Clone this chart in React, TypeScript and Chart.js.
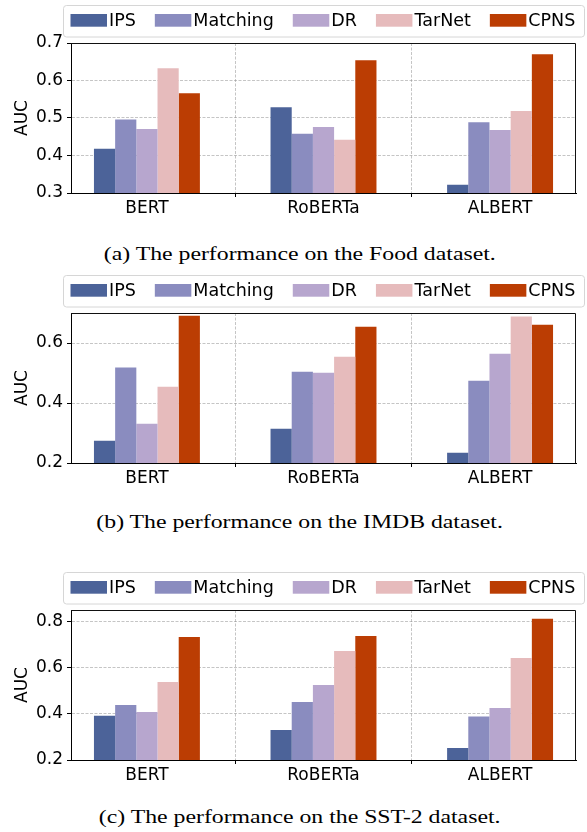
import React, { useEffect, useRef } from 'react';
import { Chart, registerables } from 'chart.js';

Chart.register(...registerables);

const categories = ['BERT', 'RoBERTa', 'ALBERT'];
const seriesNames = ['IPS', 'Matching', 'DR', 'TarNet', 'CPNS'];
const seriesColors = ['#4c6399', '#8a8cbf', '#b7a6ce', '#e6bbbc', '#bb3d03'];

// (a) Food dataset
const foodIPS = [0.418, 0.529, 0.322];
const foodMatching = [0.496, 0.458, 0.489];
const foodDR = [0.471, 0.476, 0.468];
const foodTarNet = [0.633, 0.442, 0.519];
const foodCPNS = [0.566, 0.654, 0.67];
const foodTicks = [0.3, 0.4, 0.5, 0.6, 0.7];
const foodRange = [0.3, 0.7];

// (b) IMDB dataset
const imdbIPS = [0.274, 0.314, 0.234];
const imdbMatching = [0.518, 0.504, 0.474];
const imdbDR = [0.331, 0.501, 0.564];
const imdbTarNet = [0.454, 0.554, 0.688];
const imdbCPNS = [0.691, 0.654, 0.661];
const imdbTicks = [0.2, 0.4, 0.6];
const imdbRange = [0.2, 0.7];

// (c) SST-2 dataset
const sstIPS = [0.392, 0.33, 0.252];
const sstMatching = [0.438, 0.451, 0.388];
const sstDR = [0.408, 0.525, 0.425];
const sstTarNet = [0.538, 0.672, 0.642];
const sstCPNS = [0.733, 0.737, 0.812];
const sstTicks = [0.2, 0.4, 0.6, 0.8];
const sstRange = [0.2, 0.85];

const captions = [
  '(a) The performance on the Food dataset.',
  '(b) The performance on the IMDB dataset.',
  '(c) The performance on the SST-2 dataset.',
];

const FONT = 'DejaVu Sans';
const W = 587;
const H = 225;

const legendPlugin = {
  id: 'boxLegend',
  afterDraw(chart: any) {
    const ctx = chart.ctx;
    ctx.save();
    const x0 = 63.5, y0 = 5.5, x1 = 584.5, y1 = 37, r = 3;
    ctx.beginPath();
    ctx.moveTo(x0 + r, y0);
    ctx.lineTo(x1 - r, y0);
    ctx.arcTo(x1, y0, x1, y0 + r, r);
    ctx.lineTo(x1, y1 - r);
    ctx.arcTo(x1, y1, x1 - r, y1, r);
    ctx.lineTo(x0 + r, y1);
    ctx.arcTo(x0, y1, x0, y1 - r, r);
    ctx.lineTo(x0, y0 + r);
    ctx.arcTo(x0, y0, x0 + r, y0, r);
    ctx.closePath();
    ctx.fillStyle = 'rgba(255,255,255,0.9)';
    ctx.fill();
    ctx.strokeStyle = '#d6d6d6';
    ctx.lineWidth = 1;
    ctx.stroke();
    ctx.font = `17.5px "${FONT}"`;
    ctx.textBaseline = 'middle';
    ctx.textAlign = 'left';
    let x = 70.5;
    seriesNames.forEach((name, i) => {
      ctx.fillStyle = seriesColors[i];
      ctx.fillRect(x, 14, 36.5, 12.7);
      ctx.fillStyle = '#000';
      ctx.fillText(name, x + 38.5, 21);
      x += 38.5 + ctx.measureText(name).width + 19;
    });
    ctx.restore();
  },
};

const framePlugin = {
  id: 'frame',
  afterDraw(chart: any) {
    const { ctx, chartArea } = chart;
    ctx.save();
    ctx.strokeStyle = '#111';
    ctx.lineWidth = 1;
    ctx.beginPath();
    ctx.moveTo(chartArea.left, chartArea.top + 0.5);
    ctx.lineTo(chartArea.right - 0.5, chartArea.top + 0.5);
    ctx.lineTo(chartArea.right - 0.5, chartArea.bottom);
    ctx.stroke();
    ctx.restore();
  },
};

function Panel(props: {
  series: number[][];
  range: number[];
  ticks: number[];
  top: number;
}) {
  const ref = useRef<HTMLCanvasElement | null>(null);
  useEffect(() => {
    if (!ref.current) return;
    const gridCommon = {
      color: 'rgba(140,140,140,0.5)',
      lineWidth: 1,
      tickColor: '#000',
      tickLength: 4,
      tickWidth: 1,
      tickBorderDash: [],
    };
    const borderCommon = { color: '#000', width: 1, dash: [3, 1.5] };
    const chart = new Chart(ref.current, {
      type: 'bar',
      data: {
        datasets: props.series.map((vals, si) => ({
          label: seriesNames[si],
          data: vals.map((v, i) => ({ x: i, y: v })),
          backgroundColor: seriesColors[si],
          borderWidth: 0,
          categoryPercentage: 0.6,
          barPercentage: 1.0,
        })),
      },
      options: {
        responsive: false,
        animation: false,
        devicePixelRatio: 1,
        layout: { padding: { top: 43, right: 11, left: 0, bottom: 0 } },
        plugins: { legend: { display: false }, tooltip: { enabled: false } },
        scales: {
          x: {
            type: 'linear',
            min: -0.43,
            max: 2.43,
            offset: false,
            z: 1,
            afterBuildTicks: (s: any) => {
              s.ticks = categories.map((_, i) => ({ value: i }));
            },
            afterFit: (s: any) => {
              s.height = H - 193;
            },
            ticks: {
              autoSkip: false,
              maxRotation: 0,
              padding: 1,
              color: '#000',
              font: { family: FONT, size: 17 },
              callback: (v: any) => categories[Math.round(Number(v))] ?? '',
            },
            grid: gridCommon,
            border: borderCommon,
          },
          y: {
            type: 'linear',
            min: props.range[0],
            max: props.range[1],
            z: 1,
            afterBuildTicks: (s: any) => {
              s.ticks = props.ticks.map((v) => ({ value: v }));
            },
            afterFit: (s: any) => {
              s.width = 71;
            },
            ticks: {
              padding: 4,
              color: '#000',
              font: { family: FONT, size: 17 },
              callback: (v: any) => Number(v).toFixed(1),
            },
            title: {
              display: true,
              text: 'AUC',
              color: '#000',
              font: { family: FONT, size: 17 },
              padding: { top: 12, bottom: 0 },
            },
            grid: gridCommon,
            border: borderCommon,
          },
        },
      } as any,
      plugins: [legendPlugin, framePlugin],
    });
    return () => chart.destroy();
  }, []);
  return (
    <canvas
      ref={ref}
      width={W}
      height={H}
      style={{ position: 'absolute', left: 0, top: props.top, width: W, height: H }}
    />
  );
}

function Caption(props: { text: string; center: number }) {
  return (
    <div
      style={{
        position: 'absolute',
        left: 0,
        width: 600,
        top: props.center - 12,
        height: 24,
        lineHeight: '24px',
        textAlign: 'center',
        fontFamily: '"Liberation Serif", "Times New Roman", serif',
        fontSize: 19,
        color: '#000',
        whiteSpace: 'nowrap',
      }}
    >
      <span style={{ display: 'inline-block', transform: 'scaleX(1.25)' }}>{props.text}</span>
    </div>
  );
}

export default function App() {
  return (
    <div style={{ position: 'absolute', left: 0, top: 0, width: W, height: 832, background: '#fff', overflow: 'hidden' }}>
      <Panel
        top={0}
        series={[foodIPS, foodMatching, foodDR, foodTarNet, foodCPNS]}
        range={foodRange}
        ticks={foodTicks}
      />
      <Caption text={captions[0]} center={253.5} />
      <Panel
        top={270}
        series={[imdbIPS, imdbMatching, imdbDR, imdbTarNet, imdbCPNS]}
        range={imdbRange}
        ticks={imdbTicks}
      />
      <Caption text={captions[1]} center={521.7} />
      <Panel
        top={567}
        series={[sstIPS, sstMatching, sstDR, sstTarNet, sstCPNS]}
        range={sstRange}
        ticks={sstTicks}
      />
      <Caption text={captions[2]} center={817} />
    </div>
  );
}
